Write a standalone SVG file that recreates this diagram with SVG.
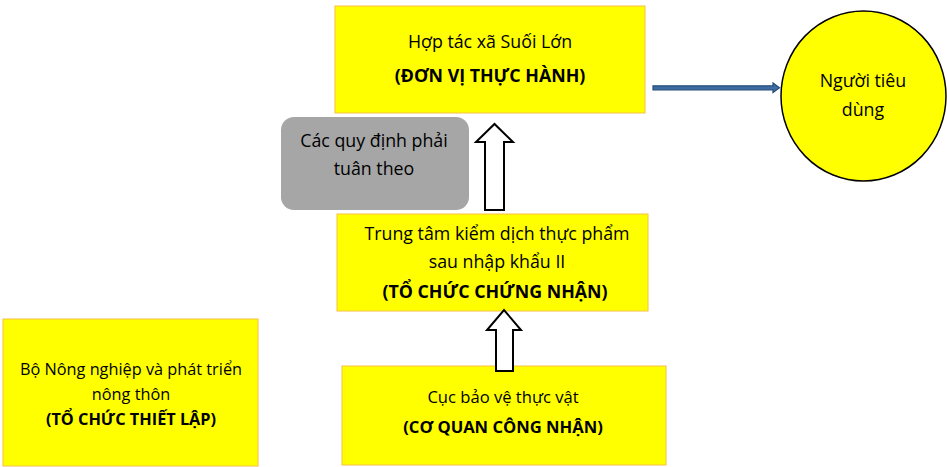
<svg xmlns="http://www.w3.org/2000/svg" width="947" height="467" viewBox="0 0 947 467">
<style>
.box{fill:#FFFF00;stroke:#F5C242;stroke-width:1}
.t{font-family:"Open Sans","Liberation Sans",sans-serif;font-size:17.8px;fill:#000;text-anchor:middle}
.s{font-size:16.3px}
.s2{font-size:16.6px}
.b{font-weight:bold}
.up{fill:#FFFFFF;stroke:#000;stroke-width:2;stroke-linejoin:miter}
</style>
<rect width="947" height="467" fill="#FFFFFF"/>
<g id="node-htx">
<rect class="box" x="335" y="6" width="310" height="107"/>
<text class="t" x="490" y="48">Hợp tác xã Suối Lớn</text>
<text class="t b" x="490" y="82">(ĐƠN VỊ THỰC HÀNH)</text>
</g>
<g id="node-quydinh">
<rect x="281" y="117" width="188" height="93" rx="13" ry="13" fill="#A6A6A6"/>
<text class="t" x="374" y="147">Các quy định phải</text>
<text class="t" x="374" y="175">tuân theo</text>
</g>
<g id="node-trungtam">
<rect class="box" x="337" y="214" width="311" height="97"/>
<text class="t" x="497" y="240">Trung tâm kiểm dịch thực phẩm</text>
<text class="t" x="497" y="268">sau nhập khẩu II</text>
<text class="t b" x="495" y="298">(TỔ CHỨC CHỨNG NHẬN)</text>
</g>
<g id="node-cuc">
<rect class="box" x="342" y="366" width="324" height="99"/>
<text class="t s2" x="503" y="403">Cục bảo vệ thực vật</text>
<text class="t s2 b" x="503" y="433">(CƠ QUAN CÔNG NHẬN)</text>
</g>
<g id="node-bo">
<rect class="box" x="3" y="319" width="255" height="147"/>
<text class="t s" x="131" y="375">Bộ Nông nghiệp và phát triển</text>
<text class="t s" x="131" y="400">nông thôn</text>
<text class="t s b" x="131" y="425">(TỔ CHỨC THIẾT LẬP)</text>
</g>
<g id="node-nguoitieudung">
<ellipse cx="863.5" cy="96" rx="82.5" ry="85" fill="#FFFF00" stroke="#000" stroke-width="1.5"/>
<text class="t" x="863" y="87">Người tiêu</text>
<text class="t" x="863" y="116">dùng</text>
</g>
<g id="connectors">
<path class="up" d="M485,210 L485,142 L476,142 L494.5,124 L513,142 L504,142 L504,210 Z"/>
<path class="up" d="M496,371 L496,330 L487,330 L504,310 L521,330 L513,330 L513,371 Z"/>
<path d="M653,85.8 L773,85.8 L773,83 L779.5,87.8 L773,92.6 L773,89.8 L653,89.8 Z" fill="#3B6CA3" stroke="#274E79" stroke-width="1.2"/>
</g>
</svg>
